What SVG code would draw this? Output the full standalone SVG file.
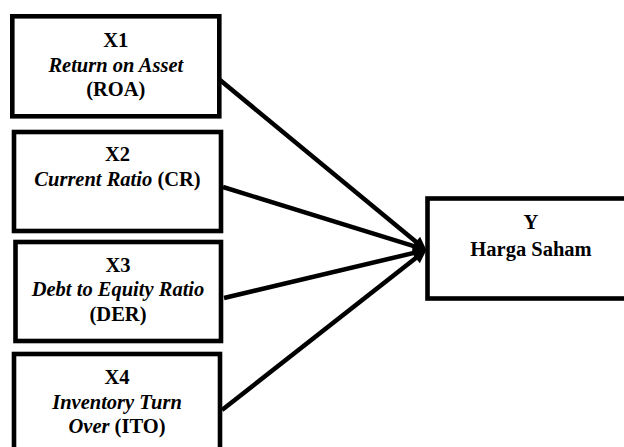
<svg xmlns="http://www.w3.org/2000/svg" width="624" height="447" viewBox="0 0 624 447" font-family="'Liberation Serif', 'Times New Roman', Times, serif">
<style>
.box{fill:#fff;stroke:#000;stroke-width:4.6}
.t{font-family:'Liberation Serif', 'Times New Roman', Times, serif;font-size:20.5px;font-weight:bold;text-anchor:middle;fill:#000}
.i{font-style:italic}
.c{stroke:#000;stroke-width:4.5;fill:none;marker-end:url(#ah)}
</style>
<defs>
<marker id="ah" markerUnits="userSpaceOnUse" markerWidth="16" markerHeight="14" viewBox="0 -7 14 14" refX="7" refY="0" orient="auto">
<path d="M0,-6.5 L14,0 L0,6.5 z" fill="#000"/>
</marker>
</defs>
<rect width="624" height="447" fill="#fff"/>
<g id="connectors">
<line class="c" x1="220" y1="80" x2="421.4" y2="246.2"/>
<line class="c" x1="223" y1="187" x2="420.3" y2="248.2"/>
<line class="c" x1="224" y1="298" x2="420.2" y2="251.4"/>
<line class="c" x1="222" y1="410" x2="421.3" y2="253.7"/>
</g>
<g id="x1">
<rect class="box" x="12.3" y="16.3" width="207" height="100"/>
<text class="t" x="115.8" y="47">X1</text>
<text class="t i" x="115.8" y="71.5">Return on Asset</text>
<text class="t" x="115.8" y="96">(ROA)</text>
</g>
<g id="x2">
<rect class="box" x="14" y="132" width="207" height="99"/>
<text class="t" x="117.5" y="161">X2</text>
<text class="t" x="117.5" y="186"><tspan class="i">Current Ratio</tspan> (CR)</text>
</g>
<g id="x3">
<rect class="box" x="15.5" y="242" width="205.5" height="99"/>
<text class="t" x="118" y="271.5">X3</text>
<text class="t i" x="118" y="296">Debt to Equity Ratio</text>
<text class="t" x="118" y="320.5">(DER)</text>
</g>
<g id="x4">
<rect class="box" x="14" y="354" width="206" height="110"/>
<text class="t" x="117" y="384">X4</text>
<text class="t i" x="117" y="408.5">Inventory Turn</text>
<text class="t" x="117" y="433"><tspan class="i">Over</tspan> (ITO)</text>
</g>
<g id="y">
<rect class="box" x="427.5" y="198.5" width="210" height="100"/>
<text class="t" x="531" y="229">Y</text>
<text class="t" x="531" y="256">Harga Saham</text>
</g>
</svg>
